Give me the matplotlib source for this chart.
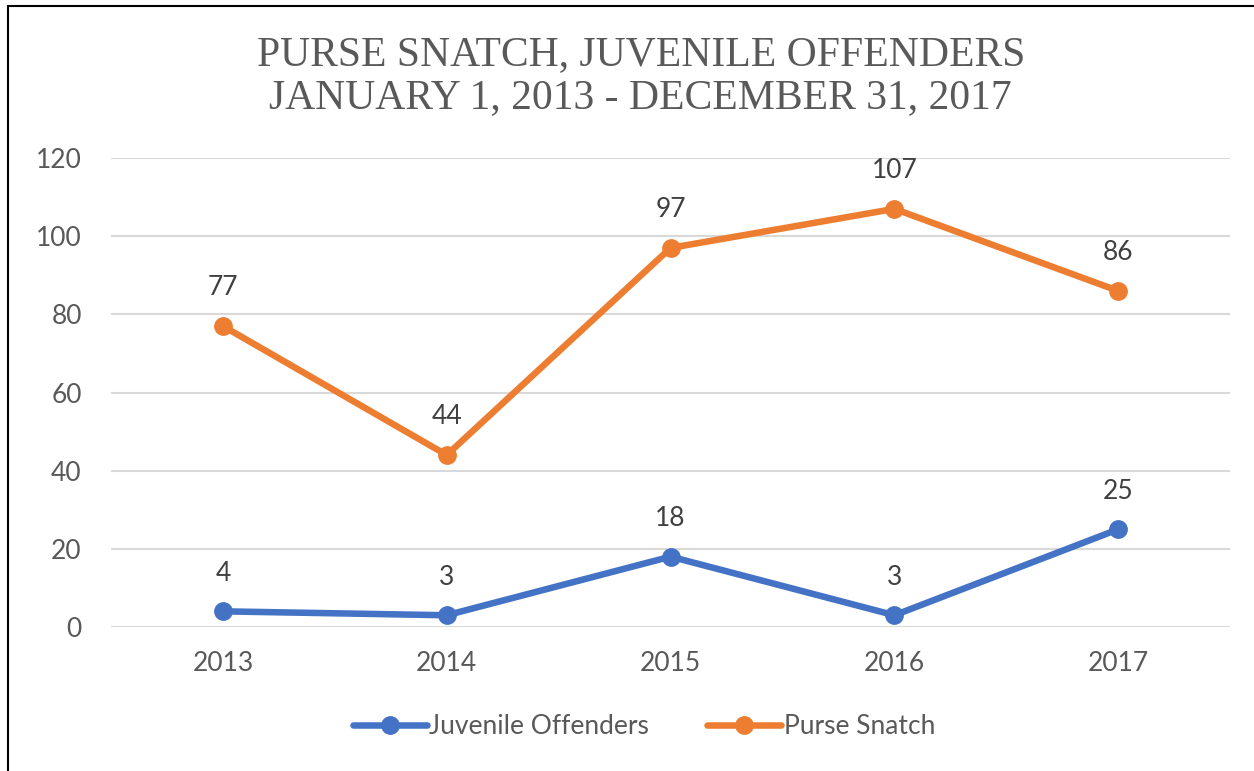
import matplotlib.pyplot as plt
from matplotlib.patches import Rectangle

years = ["2013", "2014", "2015", "2016", "2017"]
juvenile = [4, 3, 18, 3, 25]
purse = [77, 44, 97, 107, 86]

BLUE = "#4472C4"
ORANGE = "#ED7D31"
TEXT = "#595959"

plt.rcParams["font.family"] = ["Lato", "DejaVu Sans"]

fig = plt.figure(figsize=(12.54, 7.71), dpi=100)
ax = fig.add_axes([0.0885, 0.1868, 0.8925, 0.6082])

x = range(len(years))
ax.plot(x, juvenile, color=BLUE, lw=4.7, marker="o", ms=12.5, label="Juvenile Offenders",
        solid_capstyle="round")
ax.plot(x, purse, color=ORANGE, lw=4.7, marker="o", ms=12.5, label="Purse Snatch",
        solid_capstyle="round")

for ys in (juvenile, purse):
    for xi, yi in zip(x, ys):
        ax.annotate(str(yi), (xi, yi), xytext=(0, 27.5), textcoords="offset points",
                    ha="center", va="center", fontsize=19, color="#404040")

ax.set_xlim(-0.5, 4.5)
ax.set_ylim(0, 120)
ax.set_yticks(range(0, 121, 20))
ax.set_xticks(list(x))
ax.set_xticklabels(years)
ax.tick_params(length=0, labelsize=19, labelcolor=TEXT)
ax.tick_params(axis="x", pad=17)
ax.tick_params(axis="y", pad=21)
ax.grid(axis="y", color="#d9d9d9", lw=1.5)
ax.set_axisbelow(True)
for s in ax.spines.values():
    s.set_visible(False)

fig.text(0.511, 1 - 55 / 771, "PURSE SNATCH, JUVENILE OFFENDERS",
         ha="center", va="center", fontsize=30, color=TEXT, family="Liberation Serif")
fig.text(0.511, 1 - 98 / 771, "JANUARY 1, 2013 - DECEMBER 31, 2017",
         ha="center", va="center", fontsize=30, color=TEXT, family="Liberation Serif")

fig.legend(loc="center", bbox_to_anchor=(0.5136, 0.058), ncol=2, frameon=False,
           fontsize=19, labelcolor=TEXT, handlelength=2.8, handletextpad=0.1,
           columnspacing=2.2)

fig.patches.append(Rectangle((8 / 1254, -0.1), 1.2, (771 - 6) / 771 + 0.1,
                             transform=fig.transFigure, fill=False, ec="black", lw=1.5))

fig.savefig("out.png", dpi=100)
